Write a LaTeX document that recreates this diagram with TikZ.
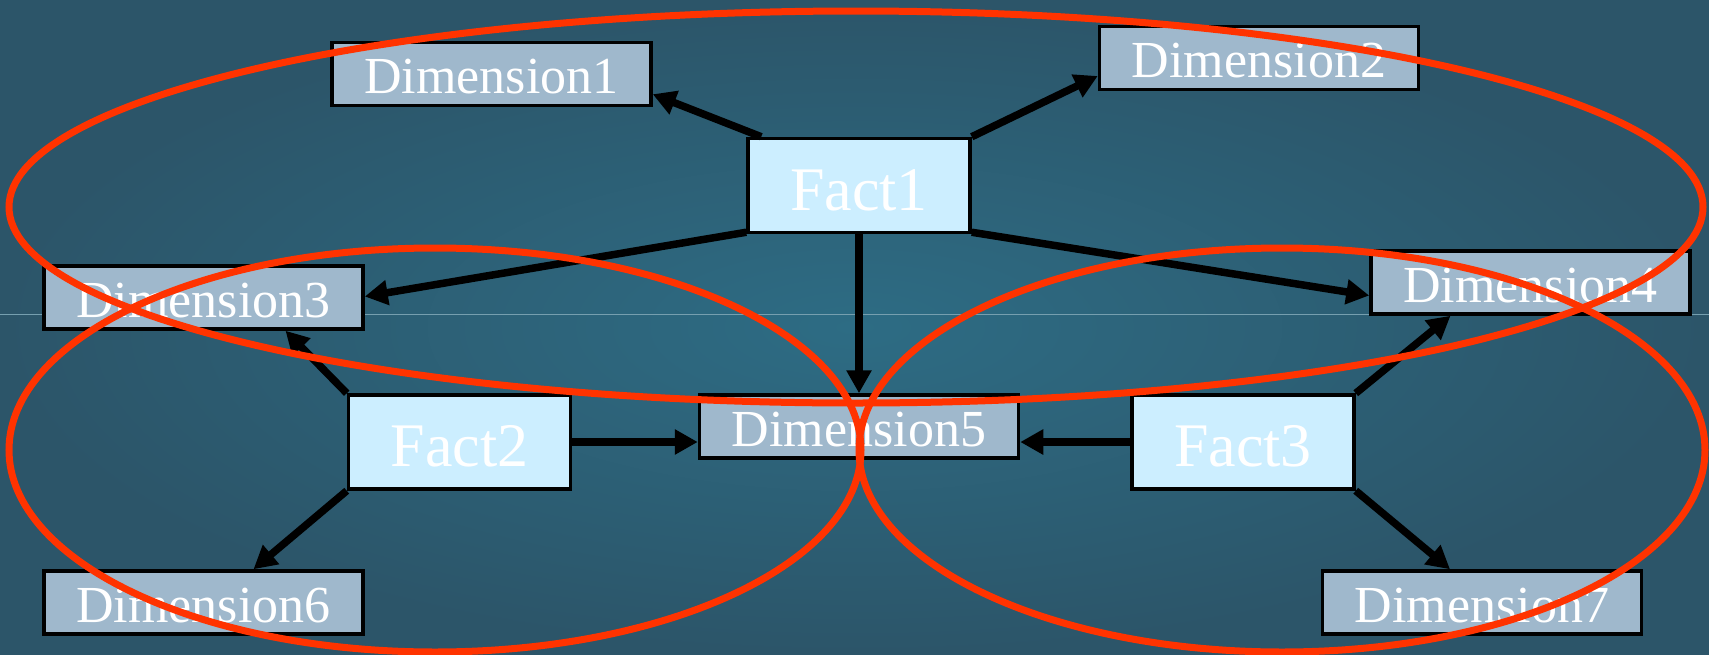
\documentclass[tikz,border=0pt]{standalone}
\usepackage{fontspec}
\setmainfont{Liberation Serif}
\usetikzlibrary{arrows.meta,calc}
\definecolor{bgA}{HTML}{2D6C84}
\definecolor{bgB}{HTML}{2C5569}
\definecolor{dimfill}{HTML}{9FB8CC}
\definecolor{factfill}{HTML}{CCEEFF}
\definecolor{ringred}{HTML}{FF3300}
\begin{document}
\begin{tikzpicture}[x=1pt,y=-1pt,
 dimbox/.style={draw=black, line width=3.5pt, fill=dimfill, minimum width=319pt, minimum height=63pt, inner sep=0pt, text height=39pt, text depth=0pt, text=white, font=\fontsize{52}{52}\selectfont},
 factbox/.style={draw=black, line width=3.5pt, fill=factfill, minimum width=222pt, minimum height=94pt, inner sep=0pt, text height=49pt, text depth=0pt, text=white, font=\fontsize{62}{62}\selectfont},
 link/.style={line width=7.5pt, -{Triangle[length=23pt,width=24pt]}},
 ring/.style={draw=ringred, line width=7pt}]
\useasboundingbox (0,0) rectangle (1709,654);
\shade[inner color=bgA, outer color=bgB] (0,0) rectangle (1709,654);
\draw[color=white!35!bgA, line width=0.8pt] (0,314) -- (1709,314);

\node[dimbox] (d1) at (491.5,74) {Dimension1};
\node[dimbox] (d2) at (1259,58) {Dimension2};
\node[factbox] (f1) at (859,185.5) {Fact1};
\node[dimbox] (d3) at (203.5,297.5) {Dimension3};
\node[dimbox] (d4) at (1530.5,282.5) {Dimension4};
\node[factbox] (f2) at (459.5,442) {Fact2};
\node[dimbox] (d5) at (859,426.5) {Dimension5};
\node[factbox] (f3) at (1243,442) {Fact3};
\node[dimbox] (d6) at (203.5,602.5) {Dimension6};
\node[dimbox] (d7) at (1482,602.5) {Dimension7};

\draw[link] ($(f1.north west)+(15,0)$) -- ($(d1.south east)+(0,-13)$);
\draw[link] (f1.north east) -- ($(d2.west)+(0,18)$);
\draw[link] ($(f1.south west)+(0,-2)$) -- ($(d3.east)+(0,-1)$);
\draw[link] (f1.south) -- (d5.north);
\draw[link] ($(f1.south east)+(0,-2)$) -- ($(d4.west)+(0,13)$);
\draw[link] (f2.north west) -- ($(d3.south)+(82,0)$);
\draw[link] (f2.east) -- (f2.east -| d5.west);
\draw[link] (f2.south west) -- ($(d6.north)+(50,0)$);
\draw[link] (f3.west) -- (f3.west -| d5.east);
\draw[link] (f3.north east) -- ($(d4.south)+(-80,0)$);
\draw[link] (f3.south east) -- ($(d7.north)+(-32,0)$);

\draw[ring] (856,207) ellipse [x radius=847, y radius=196];
\draw[ring] (435,450) ellipse [x radius=426, y radius=202];
\draw[ring] (1282,450) ellipse [x radius=423, y radius=202];
\end{tikzpicture}
\end{document}
